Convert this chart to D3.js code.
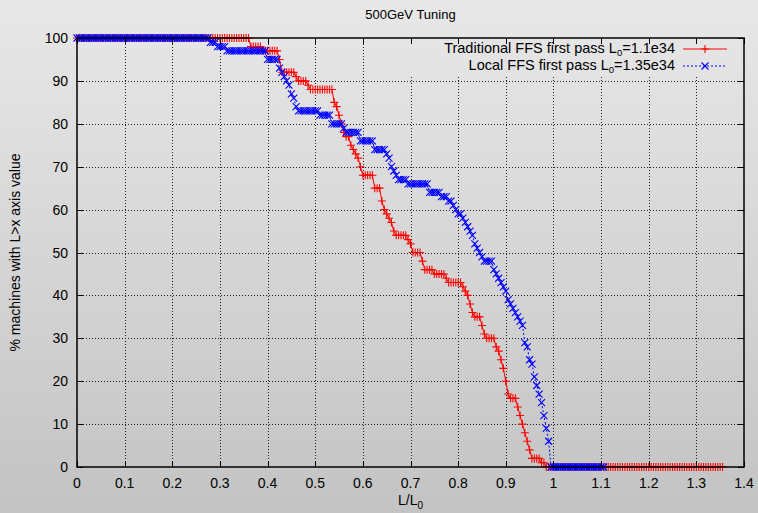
<!DOCTYPE html>
<html>
<head>
<meta charset="utf-8">
<script src="https://cdn.jsdelivr.net/npm/d3@7"></script>
<style>
  html, body { margin: 0; padding: 0; }
  body { width: 758px; height: 513px; overflow: hidden; }
  text { font-family: "Liberation Sans", Arial, sans-serif; fill: #000; }
</style>
</head>
<body>
<svg id="chart" width="758" height="513"></svg>
<script>
// ---------------- DATA ----------------
const xTicks = [0, 0.1, 0.2, 0.3, 0.4, 0.5, 0.6, 0.7, 0.8, 0.9, 1, 1.1, 1.2, 1.3, 1.4];
const xTickLabels = ["0", "0.1", "0.2", "0.3", "0.4", "0.5", "0.6", "0.7", "0.8", "0.9", "1", "1.1", "1.2", "1.3", "1.4"];
const yTicks = [0, 10, 20, 30, 40, 50, 60, 70, 80, 90, 100];
const yTickLabels = ["0", "10", "20", "30", "40", "50", "60", "70", "80", "90", "100"];

// sample positions on L/L0 axis
const sampleX = [
  0,0.005,0.01,0.015,0.02,0.025,0.03,0.035,0.04,0.045,0.05,0.055,0.06,0.065,0.07,0.075,0.08,0.085,0.09,0.095,
  0.1,0.105,0.11,0.115,0.12,0.125,0.13,0.135,0.14,0.145,0.15,0.155,0.16,0.165,0.17,0.175,0.18,0.185,0.19,0.195,
  0.2,0.205,0.21,0.215,0.22,0.225,0.23,0.235,0.24,0.245,0.25,0.255,0.26,0.265,0.27,0.275,0.28,0.285,0.29,0.295,
  0.3,0.305,0.31,0.315,0.32,0.325,0.33,0.335,0.34,0.345,0.35,0.355,0.36,0.365,0.37,0.375,0.38,0.385,0.39,0.395,
  0.4,0.405,0.41,0.415,0.42,0.425,0.43,0.435,0.44,0.445,0.45,0.455,0.46,0.465,0.47,0.475,0.48,0.485,0.49,0.495,
  0.5,0.505,0.51,0.515,0.52,0.525,0.53,0.535,0.54,0.545,0.55,0.555,0.56,0.565,0.57,0.575,0.58,0.585,0.59,0.595,
  0.6,0.605,0.61,0.615,0.62,0.625,0.63,0.635,0.64,0.645,0.65,0.655,0.66,0.665,0.67,0.675,0.68,0.685,0.69,0.695,
  0.7,0.705,0.71,0.715,0.72,0.725,0.73,0.735,0.74,0.745,0.75,0.755,0.76,0.765,0.77,0.775,0.78,0.785,0.79,0.795,
  0.8,0.805,0.81,0.815,0.82,0.825,0.83,0.835,0.84,0.845,0.85,0.855,0.86,0.865,0.87,0.875,0.88,0.885,0.89,0.895,
  0.9,0.905,0.91,0.915,0.92,0.925,0.93,0.935,0.94,0.945,0.95,0.955,0.96,0.965,0.97,0.975,0.98,0.985,0.99,0.995,
  1,1.005,1.01,1.015,1.02,1.025,1.03,1.035,1.04,1.045,1.05,1.055,1.06,1.065,1.07,1.075,1.08,1.085,1.09,1.095,
  1.1,1.105,1.11,1.115,1.12,1.125,1.13,1.135,1.14,1.145,1.15,1.155,1.16,1.165,1.17,1.175,1.18,1.185,1.19,1.195,
  1.2,1.205,1.21,1.215,1.22,1.225,1.23,1.235,1.24,1.245,1.25,1.255,1.26,1.265,1.27,1.275,1.28,1.285,1.29,1.295,
  1.3,1.305,1.31,1.315,1.32,1.325,1.33,1.335,1.34,1.345,1.35,1.355
];

// Traditional FFS first pass, % machines with L > x
const tradY = [
  100,100,100,100,100,100,100,100,100,100,100,100,100,100,100,100,100,100,100,100,
  100,100,100,100,100,100,100,100,100,100,100,100,100,100,100,100,100,100,100,100,
  100,100,100,100,100,100,100,100,100,100,100,100,100,100,100,100,100,100,100,100,
  100,100,100,100,100,100,100,100,100,100,100,100,100,98,98,98,98,98,97,97,
  97,97,97,97,97,95,92,92,92,92,92,92,91,90,90,90,90,89,88,88,
  88,88,88,88,88,88,88,88,85,84,82,80,78,77,77,75,74,73,72,70,
  68,68,68,68,68,65,65,65,62,60,59,58,57,55,54,54,54,54,54,53,
  52,50,50,50,50,48,46,46,46,46,45,45,45,45,45,44,43,43,43,43,
  43,43,42,41,40,38,36,35,35,35,33,31,30,30,30,30,28,27,25,23,
  20,17,16,16,16,14,12,10,8,6,4,2,2,2,2,1,1,0,0,0,
  0,0,0,0,0,0,0,0,0,0,0,0,0,0,0,0,0,0,0,0,
  0,0,0,0,0,0,0,0,0,0,0,0,0,0,0,0,0,0,0,0,
  0,0,0,0,0,0,0,0,0,0,0,0,0,0,0,0,0,0,0,0,
  0,0,0,0,0,0,0,0,0,0,0,0
];

// Local FFS first pass, % machines with L > x
const localY = [
  100,100,100,100,100,100,100,100,100,100,100,100,100,100,100,100,100,100,100,100,
  100,100,100,100,100,100,100,100,100,100,100,100,100,100,100,100,100,100,100,100,
  100,100,100,100,100,100,100,100,100,100,100,100,100,100,100,100,99,99,99,98,
  98,98,98,97,97,97,97,97,97,97,97,97,97,97,97,97,97,97,97,97,
  95,95,95,95,95,93,92,91,90,89,87,86,84,83,83,83,83,83,83,83,
  83,83,82,82,82,82,82,80,80,80,80,80,79,78,78,78,78,78,78,76,
  76,76,76,76,76,74,74,74,74,74,73,72,70,69,68,67,67,67,67,66,
  66,66,66,66,66,66,66,66,64,64,64,64,64,63,63,63,62,62,61,60,
  59,59,58,57,56,55,54,52,51,50,49,48,48,48,48,46,45,44,43,42,
  41,39,38,37,36,35,34,33,29,28,25,24,21,19,17,15,12,9,6,0,
  0,0,0,0,0,0,0,0,0,0,0,0,0,0,0,0,0,0,0,0,
  0,0
];

const seriesNames = ["Traditional FFS first pass L", "Local FFS first pass L"];
const seriesSuffix = ["=1.1e34", "=1.35e34"];
const seriesColors = ["#ff0000", "#0000ff"];

// ---------------- CHART ----------------
const W = 758, H = 513;
const M = { left: 77, right: 744, top: 38, bottom: 467 };
const svg = d3.select("#chart");

const defs = svg.append("defs");
const grad = defs.append("linearGradient")
  .attr("id", "bg").attr("gradientUnits", "userSpaceOnUse")
  .attr("x1", 0).attr("y1", 0).attr("x2", 0).attr("y2", H);
grad.append("stop").attr("offset", "0%").attr("stop-color", "#e8e8e8");
grad.append("stop").attr("offset", "100%").attr("stop-color", "#c3c3c3");

svg.append("rect").attr("width", W).attr("height", H).attr("fill", "url(#bg)");

const x = d3.scaleLinear().domain([0, 1.4]).range([M.left, M.right]);
const y = d3.scaleLinear().domain([0, 100]).range([M.bottom, M.top]);

// grid
const grid = svg.append("g").attr("stroke", "#000").attr("stroke-width", 1)
  .attr("stroke-dasharray", "1,2").attr("opacity", 0.85);
xTicks.slice(1, -1).forEach(t => {
  grid.append("line").attr("x1", Math.round(x(t)) + 0.5).attr("x2", Math.round(x(t)) + 0.5)
    .attr("y1", M.top).attr("y2", M.bottom);
});
yTicks.slice(1, -1).forEach(t => {
  grid.append("line").attr("y1", Math.round(y(t)) + 0.5).attr("y2", Math.round(y(t)) + 0.5)
    .attr("x1", M.left).attr("x2", M.right);
});

// key box (opaque)
svg.append("rect").attr("x", 405).attr("y", M.top + 1).attr("width", M.right - 406)
  .attr("height", 37).attr("fill", "url(#bg)");

const tradData = tradY.map((v, i) => [sampleX[i], v]);
const localData = localY.map((v, i) => [sampleX[i], v]);

const line = d3.line().x(d => x(d[0])).y(d => y(d[1]));

function plus(g, cx, cy, r, color) {
  g.append("path").attr("d", `M${cx - r},${cy}H${cx + r}M${cx},${cy - r}V${cy + r}`)
    .attr("stroke", color).attr("stroke-width", 1.1).attr("fill", "none");
}
function cross(g, cx, cy, r, color) {
  g.append("path").attr("d", `M${cx - r},${cy - r}L${cx + r},${cy + r}M${cx - r},${cy + r}L${cx + r},${cy - r}`)
    .attr("stroke", color).attr("stroke-width", 1.1).attr("fill", "none");
}

// Traditional series
const gT = svg.append("g");
gT.append("path").datum(tradData).attr("d", line)
  .attr("fill", "none").attr("stroke", seriesColors[0]).attr("stroke-width", 1);
tradData.forEach(d => plus(gT, x(d[0]), y(d[1]), 4, seriesColors[0]));

// Local series
const gL = svg.append("g");
gL.append("path").datum(localData).attr("d", line)
  .attr("fill", "none").attr("stroke", seriesColors[1]).attr("stroke-width", 1)
  .attr("stroke-dasharray", "2,2");
localData.forEach(d => cross(gL, x(d[0]), y(d[1]), 3.5, seriesColors[1]));

// border
svg.append("rect").attr("x", M.left).attr("y", M.top)
  .attr("width", M.right - M.left).attr("height", M.bottom - M.top)
  .attr("fill", "none").attr("stroke", "#000").attr("stroke-width", 1.5);

// ticks (inward, mirrored)
const tk = svg.append("g").attr("stroke", "#000").attr("stroke-width", 1);
const TL = 6;
xTicks.forEach(t => {
  const px = Math.round(x(t)) + 0.5;
  tk.append("line").attr("x1", px).attr("x2", px).attr("y1", M.bottom).attr("y2", M.bottom - TL);
  tk.append("line").attr("x1", px).attr("x2", px).attr("y1", M.top).attr("y2", M.top + TL);
});
yTicks.forEach(t => {
  const py = Math.round(y(t)) + 0.5;
  tk.append("line").attr("y1", py).attr("y2", py).attr("x1", M.left).attr("x2", M.left + TL);
  tk.append("line").attr("y1", py).attr("y2", py).attr("x1", M.right).attr("x2", M.right - TL);
});

// tick labels
const fs = 14;
xTicks.forEach((t, i) => {
  svg.append("text").attr("x", x(t)).attr("y", 488).attr("text-anchor", "middle")
    .attr("font-size", fs).text(xTickLabels[i]);
});
yTicks.forEach((t, i) => {
  svg.append("text").attr("x", 68).attr("y", y(t) + 5).attr("text-anchor", "end")
    .attr("font-size", fs).text(yTickLabels[i]);
});

// title
svg.append("text").attr("x", (M.left + M.right) / 2).attr("y", 19).attr("text-anchor", "middle")
  .attr("font-size", 13).text("500GeV Tuning");

// x label
const xl = svg.append("text").attr("x", (M.left + M.right) / 2).attr("y", 505)
  .attr("text-anchor", "middle").attr("font-size", fs);
xl.append("tspan").text("L/L");
xl.append("tspan").attr("font-size", 10).attr("dy", 4).text("0");

// y label
svg.append("text").attr("transform", `translate(20,${(M.top + M.bottom) / 2}) rotate(-90)`)
  .attr("text-anchor", "middle").attr("font-size", fs)
  .text("% machines with L>x axis value");

// legend
const kfs = 14.5;
const keyRows = [53, 70];
seriesNames.forEach((name, i) => {
  const t = svg.append("text").attr("x", 675).attr("y", keyRows[i])
    .attr("text-anchor", "end").attr("font-size", kfs);
  t.append("tspan").text(name);
  t.append("tspan").attr("font-size", 9.5).attr("dy", 2.5).text("0");
  t.append("tspan").attr("dy", -2.5).text(seriesSuffix[i]);
  const ly = keyRows[i] - 4;
  const l = svg.append("line").attr("x1", 683).attr("x2", 727).attr("y1", ly).attr("y2", ly)
    .attr("stroke", seriesColors[i]).attr("stroke-width", 1);
  if (i === 1) l.attr("stroke-dasharray", "2,2");
  if (i === 0) plus(svg, 705, ly, 4, seriesColors[0]);
  else cross(svg, 705, ly, 3.5, seriesColors[1]);
});
</script>
</body>
</html>
